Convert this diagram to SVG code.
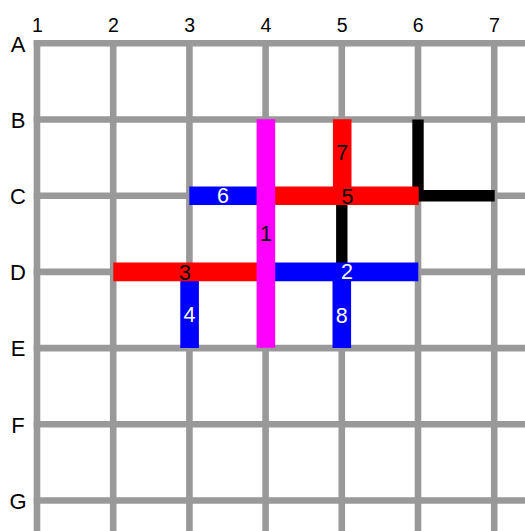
<svg xmlns="http://www.w3.org/2000/svg" width="525" height="531" viewBox="0 0 525 531">
<style>
.grid line{stroke:#999999;stroke-width:6.6}
.hdr{font-family:"Liberation Sans",Arial,sans-serif;fill:#000}
.num{font-size:19.5px;text-anchor:middle}
.let{font-size:22px;text-anchor:middle}
.seg{stroke-width:18.6;stroke-linecap:butt;fill:none}
.blk{stroke:#000;stroke-width:11.4;fill:none;stroke-linejoin:miter;stroke-linecap:butt}
.lbl{font-family:"Liberation Sans",Arial,sans-serif;font-size:21.5px;text-anchor:middle;dominant-baseline:central}
.r{stroke:#ff0000}.b{stroke:#0000ff}.m{stroke:#ff00ff}
.wt{fill:#fff}.bt{fill:#000}
</style>
<rect width="525" height="531" fill="#fff"/>
<g class="grid" id="grid">
<line x1="37" y1="40" x2="37" y2="540"/>
<line x1="113.2" y1="40" x2="113.2" y2="540"/>
<line x1="189.4" y1="40" x2="189.4" y2="540"/>
<line x1="265.6" y1="40" x2="265.6" y2="540"/>
<line x1="341.8" y1="40" x2="341.8" y2="540"/>
<line x1="418" y1="40" x2="418" y2="540"/>
<line x1="494.2" y1="40" x2="494.2" y2="540"/>
<line x1="33.7" y1="43.3" x2="530" y2="43.3"/>
<line x1="33.7" y1="119.5" x2="530" y2="119.5"/>
<line x1="33.7" y1="195.7" x2="530" y2="195.7"/>
<line x1="33.7" y1="271.9" x2="530" y2="271.9"/>
<line x1="33.7" y1="348.1" x2="530" y2="348.1"/>
<line x1="33.7" y1="424.3" x2="530" y2="424.3"/>
<line x1="33.7" y1="500.5" x2="530" y2="500.5"/>
</g>
<g id="headers" class="hdr">
<text class="num" x="37.5" y="31.7">1</text>
<text class="num" x="113.5" y="31.7">2</text>
<text class="num" x="189.7" y="31.7">3</text>
<text class="num" x="265.9" y="31.7">4</text>
<text class="num" x="342.1" y="31.7">5</text>
<text class="num" x="418.3" y="31.7">6</text>
<text class="num" x="494.5" y="31.7">7</text>
<text class="let" x="18" y="51.5">A</text>
<text class="let" x="18" y="127.7">B</text>
<text class="let" x="18" y="203.9">C</text>
<text class="let" x="18" y="280.1">D</text>
<text class="let" x="18" y="356.3">E</text>
<text class="let" x="18" y="432.5">F</text>
<text class="let" x="18" y="508.7">G</text>
</g>
<g id="connectors">
<polyline class="blk" points="418,119.5 418,195.7 494.7,195.7"/>
<line class="blk" x1="341.8" y1="195.7" x2="341.8" y2="271.9"/>
</g>
<g id="seg4"><line class="seg b" x1="189.6" y1="271.9" x2="189.6" y2="348"/></g>
<g id="seg8"><line class="seg b" x1="341.8" y1="271.9" x2="341.8" y2="348"/></g>
<g id="seg7"><line class="seg r" x1="342.2" y1="119.3" x2="342.2" y2="195.7"/></g>
<g id="seg3"><line class="seg r" x1="113.3" y1="271.9" x2="265.6" y2="271.9"/></g>
<g id="seg2"><line class="seg b" x1="265.6" y1="271.9" x2="418.3" y2="271.9"/></g>
<g id="seg5"><line class="seg r" x1="265.6" y1="195.7" x2="418.7" y2="195.7"/></g>
<g id="seg6"><line class="seg b" x1="189.3" y1="195.7" x2="265.6" y2="195.7"/></g>
<g id="seg1"><line class="seg m" x1="265.9" y1="119.3" x2="265.9" y2="347.8"/></g>
<g id="labels">
<text class="lbl bt" x="265.9" y="234">1</text>
<text class="lbl wt" x="347" y="272">2</text>
<text class="lbl bt" x="185" y="273">3</text>
<text class="lbl wt" x="189.6" y="315">4</text>
<text class="lbl bt" x="347.5" y="196.5">5</text>
<text class="lbl wt" x="223" y="196">6</text>
<text class="lbl bt" x="342.2" y="153.3">7</text>
<text class="lbl wt" x="341.8" y="315.5">8</text>
</g>
</svg>
